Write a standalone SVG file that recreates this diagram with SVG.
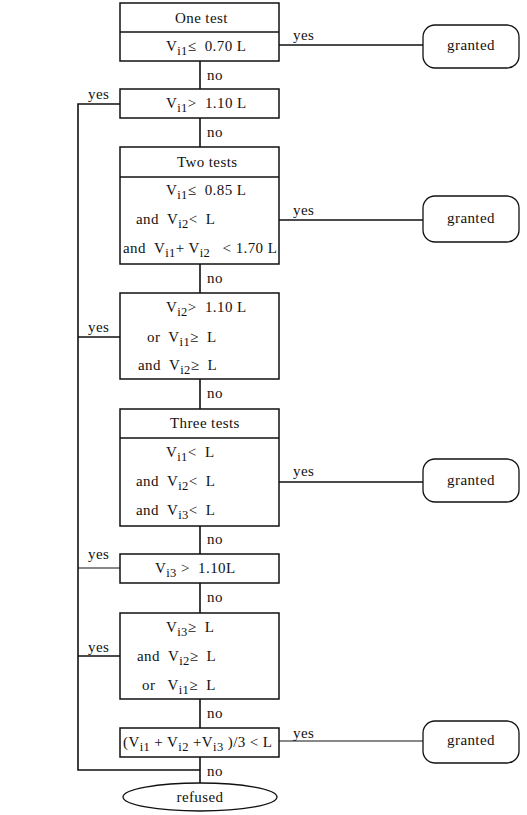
<svg xmlns="http://www.w3.org/2000/svg" width="527" height="815" viewBox="0 0 527 815" xml:space="preserve">
<style>
text{font-family:"Liberation Serif","Times New Roman",serif;font-size:15px;fill:#111;letter-spacing:0.4px;white-space:pre}
.s{font-size:12.5px}
.box{fill:#fff;stroke:#111;stroke-width:1.5}
.ln{fill:none;stroke:#111;stroke-width:1.6}
.thin{fill:none;stroke:#111;stroke-width:1}
.g{fill:#fff;stroke:#111;stroke-width:1.3}
.c{text-anchor:middle}
</style>
<rect width="527" height="815" fill="#fff"/>
<g id="connectors">
<path class="ln" d="M200 61V89M200 118V147M200 264V293M200 379V409M200 526V554M200 583V613M200 699V728M200 757V783"/>
<path class="ln" d="M120 104H78V770H200"/>
<path class="ln" d="M78 337H120M78 656H120"/>
<path class="thin" d="M78 568H120"/>
<path class="ln" d="M279 45H423M279 220H423M279 482H423"/>
<path class="thin" d="M279 741H423"/>
<text x="207" y="80">no</text>
<text x="207" y="137">no</text>
<text x="207" y="283">no</text>
<text x="207" y="398">no</text>
<text x="207" y="544">no</text>
<text x="207" y="602">no</text>
<text x="207" y="718">no</text>
<text x="207" y="776">no</text>
<text x="88" y="99">yes</text>
<text x="88" y="332">yes</text>
<text x="88" y="559">yes</text>
<text x="88" y="652">yes</text>
<text x="293" y="40">yes</text>
<text x="293" y="215">yes</text>
<text x="293" y="476">yes</text>
<text x="293" y="738">yes</text>
</g>
<g id="n1">
<rect class="box" x="120" y="3" width="159" height="58"/>
<path class="ln" d="M120 32H279"/>
<text x="175" y="23">One test</text>
<text x="166" y="51">V<tspan class="s" dy="4">i1</tspan><tspan dy="-4">≤  0.70 L</tspan></text>
</g>
<g id="n2">
<rect class="box" x="120" y="89" width="159" height="29"/>
<text x="166" y="108">V<tspan class="s" dy="4">i1</tspan><tspan dy="-4">&gt;  1.10 L</tspan></text>
</g>
<g id="n3">
<rect class="box" x="120" y="147" width="159" height="117"/>
<path class="ln" d="M120 177H279"/>
<text x="177" y="167">Two tests</text>
<text x="166" y="195">V<tspan class="s" dy="4">i1</tspan><tspan dy="-4">≤  0.85 L</tspan></text>
<text x="136" y="224">and  V<tspan class="s" dy="4">i2</tspan><tspan dy="-4">&lt;  L</tspan></text>
<text x="123" y="253">and  V<tspan class="s" dy="4">i1</tspan><tspan dy="-4">+ V</tspan><tspan class="s" dy="4">i2</tspan><tspan dy="-4">   &lt; 1.70 L</tspan></text>
</g>
<g id="n4">
<rect class="box" x="120" y="293" width="159" height="86"/>
<text x="166" y="312">V<tspan class="s" dy="4">i2</tspan><tspan dy="-4">&gt;  1.10 L</tspan></text>
<text x="147" y="342">or  V<tspan class="s" dy="4">i1</tspan><tspan dy="-4">≥  L</tspan></text>
<text x="138" y="370">and  V<tspan class="s" dy="4">i2</tspan><tspan dy="-4">≥  L</tspan></text>
</g>
<g id="n5">
<rect class="box" x="120" y="409" width="159" height="117"/>
<path class="ln" d="M120 438H279"/>
<text x="170" y="428">Three tests</text>
<text x="166" y="457">V<tspan class="s" dy="4">i1</tspan><tspan dy="-4">&lt;  L</tspan></text>
<text x="136" y="486">and  V<tspan class="s" dy="4">i2</tspan><tspan dy="-4">&lt;  L</tspan></text>
<text x="136" y="515">and  V<tspan class="s" dy="4">i3</tspan><tspan dy="-4">&lt;  L</tspan></text>
</g>
<g id="n6">
<rect class="box" x="120" y="554" width="159" height="29"/>
<text x="155" y="573">V<tspan class="s" dy="4">i3</tspan><tspan dy="-4"> &gt;  1.10L</tspan></text>
</g>
<g id="n7">
<rect class="box" x="120" y="613" width="159" height="86"/>
<text x="166" y="632">V<tspan class="s" dy="4">i3</tspan><tspan dy="-4">≥  L</tspan></text>
<text x="137" y="661">and  V<tspan class="s" dy="4">i2</tspan><tspan dy="-4">≥  L</tspan></text>
<text x="142" y="690">or   V<tspan class="s" dy="4">i1</tspan><tspan dy="-4">≥  L</tspan></text>
</g>
<g id="n8">
<rect class="box" x="120" y="728" width="159" height="29"/>
<text x="123" y="747">(V<tspan class="s" dy="4">i1</tspan><tspan dy="-4"> + V</tspan><tspan class="s" dy="4">i2</tspan><tspan dy="-4"> +V</tspan><tspan class="s" dy="4">i3</tspan><tspan dy="-4"> )/3 &lt; L</tspan></text>
</g>
<g id="refused">
<ellipse class="g" cx="200" cy="797" rx="77" ry="14"/>
<text class="c" x="200" y="802">refused</text>
</g>
<g id="granted1">
<rect class="g" x="423" y="25" width="96" height="43" rx="12"/>
<text class="c" x="471" y="50">granted</text>
</g>
<g id="granted2">
<rect class="g" x="423" y="196" width="96" height="46" rx="12"/>
<text class="c" x="471" y="223">granted</text>
</g>
<g id="granted3">
<rect class="g" x="423" y="459" width="96" height="43" rx="12"/>
<text class="c" x="471" y="485">granted</text>
</g>
<g id="granted4">
<rect class="g" x="423" y="721" width="96" height="42" rx="12"/>
<text class="c" x="471" y="745">granted</text>
</g>
</svg>
